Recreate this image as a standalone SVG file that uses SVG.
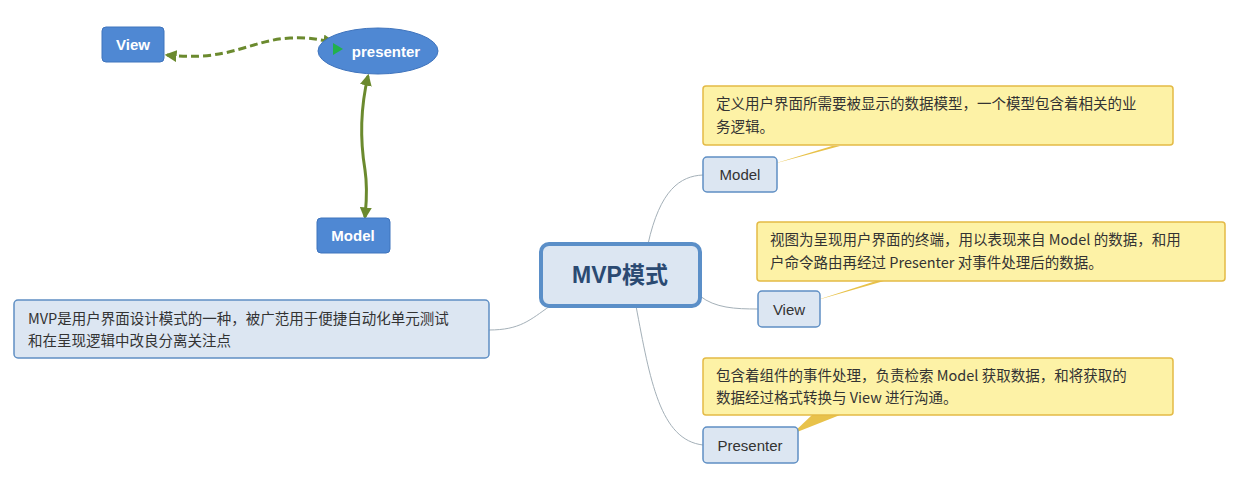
<svg xmlns="http://www.w3.org/2000/svg" width="1240" height="479" viewBox="0 0 1240 479">
<style>
.bn{fill:#4f88d3;stroke:#3f74bd;stroke-width:1}
.bt{font-family:"Liberation Sans","Noto Sans CJK SC",sans-serif;font-weight:bold;font-size:15px;fill:#fff}
.sn{fill:#dce6f2;stroke:#5f8fc4;stroke-width:1.5}
.st{font-family:"Liberation Sans","Noto Sans CJK SC",sans-serif;font-size:15px;fill:#333}
.co{fill:#fdf2a6;stroke:#e4ba46;stroke-width:1.5}
.ct{font-family:"Noto Sans CJK SC","Liberation Sans",sans-serif;font-size:14.5px;fill:#333}
.br{fill:none;stroke:#a4b0b8;stroke-width:1}
.ptr{fill:#e8c24a}
.ga{fill:none;stroke:#6b8a2e;stroke-width:3}
</style>
<defs>
<marker id="ah" viewBox="0 0 10 10" refX="8" refY="5" markerWidth="4" markerHeight="4" orient="auto-start-reverse"><path d="M0,0L10,5L0,10Z" fill="#6b8a2e"/></marker>
</defs>
<rect width="1240" height="479" fill="#fff"/>
<g id="connectors">
<path class="ga" stroke-dasharray="8,4" d="M167,55 C230,62 250,40 290,38 C310,37 320,40 333,42" marker-start="url(#ah)" marker-end="url(#ah)"/>
<path class="ga" d="M368,76 C360,110 360,140 365,170 C368,190 366,205 365,217" marker-start="url(#ah)" marker-end="url(#ah)"/>
<path class="br" d="M648,244 C660,190 680,176 703,175"/>
<path class="br" d="M700,296 C715,308 735,309 758,309"/>
<path class="br" d="M636,306 C650,380 660,440 703,445"/>
<path class="br" d="M489,330 C520,330 530,320 550,306"/>
<path class="ptr" d="M773,164 L832,146 L840,146 Z"/>
<path class="ptr" d="M814,301 L876,281 L884,281 Z"/>
<path class="ptr" d="M792,434 L812,415 L840,415 Z"/>
</g>
<g id="view-top"><rect class="bn" x="102" y="27" width="62" height="35" rx="4"/><text class="bt" x="133" y="50" text-anchor="middle">View</text></g>
<g id="presenter-top"><ellipse class="bn" cx="378" cy="51" rx="60" ry="23"/><path d="M333,43 L343,49 L333,55Z" fill="#22b14c"/><text class="bt" x="386" y="57" text-anchor="middle">presenter</text></g>
<g id="model-top"><rect class="bn" x="317" y="218" width="73" height="35" rx="4"/><text class="bt" x="353" y="241" text-anchor="middle">Model</text></g>
<g id="mvp"><rect x="541" y="244" width="159" height="62" rx="8" fill="#dce6f2" stroke="#5b8fc8" stroke-width="4"/><text x="620" y="283" text-anchor="middle" font-family="Liberation Sans,Noto Sans CJK SC,sans-serif" font-weight="bold" font-size="23" fill="#2b4a72">MVP模式</text></g>
<g id="model"><rect class="sn" x="703" y="157" width="74" height="35" rx="4"/><text class="st" x="740" y="180" text-anchor="middle">Model</text></g>
<g id="view"><rect class="sn" x="758" y="291" width="62" height="36" rx="4"/><text class="st" x="789" y="315" text-anchor="middle">View</text></g>
<g id="presenter"><rect class="sn" x="703" y="427" width="95" height="36" rx="4"/><text class="st" x="750" y="451" text-anchor="middle">Presenter</text></g>
<g id="note-model"><rect class="co" x="703" y="86" width="470" height="59" rx="3"/><text class="ct" x="716" y="109">定义用户界面所需要被显示的数据模型，一个模型包含着相关的业</text><text class="ct" x="716" y="132">务逻辑。</text></g>
<g id="note-view"><rect class="co" x="757" y="222" width="468" height="59" rx="3"/><text class="ct" x="770" y="245">视图为呈现用户界面的终端，用以表现来自 Model 的数据，和用</text><text class="ct" x="770" y="268">户命令路由再经过 Presenter 对事件处理后的数据。</text></g>
<g id="note-presenter"><rect class="co" x="703" y="358" width="470" height="57" rx="3"/><text class="ct" x="716" y="381"> 包含着组件的事件处理，负责检索 Model 获取数据，和将获取的</text><text class="ct" x="716" y="403">数据经过格式转换与 View 进行沟通。</text></g>
<g id="note-left"><rect class="sn" x="14" y="300" width="475" height="58" rx="4"/><text class="ct" x="28" y="324">MVP是用户界面设计模式的一种，被广范用于便捷自动化单元测试</text><text class="ct" x="28" y="346">和在呈现逻辑中改良分离关注点</text></g>
</svg>
